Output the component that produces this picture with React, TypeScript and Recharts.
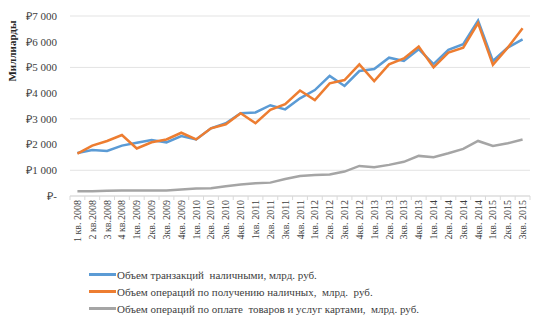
import { LineChart, Line, XAxis, YAxis, CartesianGrid, Label } from 'recharts';

const quarters = [
  '1 кв. 2008', '2 кв.2008', '3 кв.2008', '4 кв.2008',
  '1кв. 2009', '2кв. 2009', '3кв. 2009', '4кв. 2009',
  '1кв. 2010', '2кв. 2010', '3кв. 2010', '4кв. 2010',
  '1кв. 2011', '2кв. 2011', '3кв. 2011', '4кв. 2011',
  '1кв. 2012', '2кв. 2012', '3кв. 2012', '4кв. 2012',
  '1кв. 2013', '2кв. 2013', '3кв. 2013', '4кв. 2013',
  '1кв. 2014', '2кв. 2014', '3кв. 2014', '4кв. 2014',
  '1кв. 2015', '2кв. 2015', '3кв. 2015'
];

const cashTransactions = [
  1670, 1790, 1750, 1960, 2070, 2180, 2080, 2330,
  2200, 2630, 2830, 3220, 3250, 3530, 3370, 3800,
  4120, 4670, 4280, 4860, 4940, 5380, 5250, 5710,
  5130, 5680, 5900, 6820, 5250, 5770, 6090
];

const cashWithdrawals = [
  1650, 1960, 2140, 2370, 1850, 2090, 2200, 2460,
  2200, 2630, 2790, 3220, 2830, 3350, 3570, 4100,
  3730, 4380, 4510, 5120, 4470, 5120, 5350, 5810,
  5000, 5580, 5770, 6720, 5100, 5770, 6520
];

const cardPayments = [
  180, 180, 200, 210, 210, 210, 210, 250,
  290, 300, 380, 450, 500, 520, 660, 780,
  820, 840, 950, 1170, 1120, 1210, 1330, 1560,
  1510, 1660, 1830, 2140, 1950, 2050, 2200
];

const yTicks = [0, 1000, 2000, 3000, 4000, 5000, 6000, 7000];

const series = [
  { key: 'cash', name: 'Объем транзакций  наличными, млрд. руб.', color: '#5b9bd5' },
  { key: 'withdraw', name: 'Объем операций по получению наличных,  млрд.  руб.', color: '#ed7d31' },
  { key: 'cards', name: 'Объем операций по оплате  товаров и услуг картами,  млрд. руб.', color: '#a5a5a5' }
];

const data = quarters.map((q, i) => ({
  quarter: q,
  cash: cashTransactions[i],
  withdraw: cashWithdrawals[i],
  cards: cardPayments[i]
}));

const FONT = '"Liberation Serif", "Times New Roman", serif';

const formatRub = (v: number) =>
  v === 0 ? '₽-' : '₽' + String(v).replace(/\B(?=(\d{3})+(?!\d))/g, ' ');

// rotated category label plus tick marks between categories
const QuarterTick = (props: any) => {
  const { x, y, payload, index, width, visibleTicksCount } = props;
  const half = width / visibleTicksCount / 2;
  const top = y - 4;
  return (
    <g>
      <line x1={x - half} y1={top} x2={x - half} y2={top + 4} stroke="#d9d9d9" />
      {index === visibleTicksCount - 1 && (
        <line x1={x + half} y1={top} x2={x + half} y2={top + 4} stroke="#d9d9d9" />
      )}
      <text
        x={0}
        y={0}
        dy="0.35em"
        transform={`translate(${x},${y}) rotate(-90)`}
        textAnchor="end"
        fill="#404040"
        fontSize={10}
        fontFamily={FONT}
      >
        {payload.value}
      </text>
    </g>
  );
};

export default function App() {
  return (
    <div style={{ position: 'relative', width: 537, height: 327, background: '#fff' }}>
      <style>{'body{margin:0}'}</style>
      <LineChart width={537} height={327} data={data} margin={{ top: 16, right: 7, bottom: 0, left: 10 }}>
        <CartesianGrid vertical={false} stroke="#e3e3e3" />
        <XAxis
          dataKey="quarter"
          scale="band"
          interval={0}
          height={131}
          tick={<QuarterTick />}
          tickLine={false}
          tickSize={4}
          tickMargin={0}
          axisLine={{ stroke: '#d9d9d9' }}
        />
        <YAxis
          width={60}
          domain={[0, 7000]}
          ticks={yTicks}
          tickFormatter={formatRub}
          axisLine={false}
          tickLine={false}
          tickSize={0}
          tickMargin={13}
          tick={{ fill: '#404040', fontSize: 11, fontFamily: FONT }}
        >
          <Label
            content={() => (
              <text
                x={12}
                y={51}
                transform="rotate(-90 12 51)"
                textAnchor="middle"
                dominantBaseline="central"
                fontSize={11}
                fontWeight="bold"
                fontFamily={FONT}
                fill="#262626"
              >
                Миллиарды
              </text>
            )}
          />
        </YAxis>
        {series.map((s) => (
          <Line
            key={s.key}
            type="linear"
            dataKey={s.key}
            name={s.name}
            stroke={s.color}
            strokeWidth={2.5}
            dot={false}
            isAnimationActive={false}
          />
        ))}
      </LineChart>
      <div style={{ position: 'absolute', left: 89, top: 266, fontFamily: FONT, fontSize: 11, color: '#404040' }}>
        {series.map((s) => (
          <div key={s.key} style={{ display: 'flex', alignItems: 'center', height: 17, whiteSpace: 'pre' }}>
            <div style={{ width: 27, height: 2.5, background: s.color, marginRight: 1 }} />
            <span>{s.name}</span>
          </div>
        ))}
      </div>
    </div>
  );
}
